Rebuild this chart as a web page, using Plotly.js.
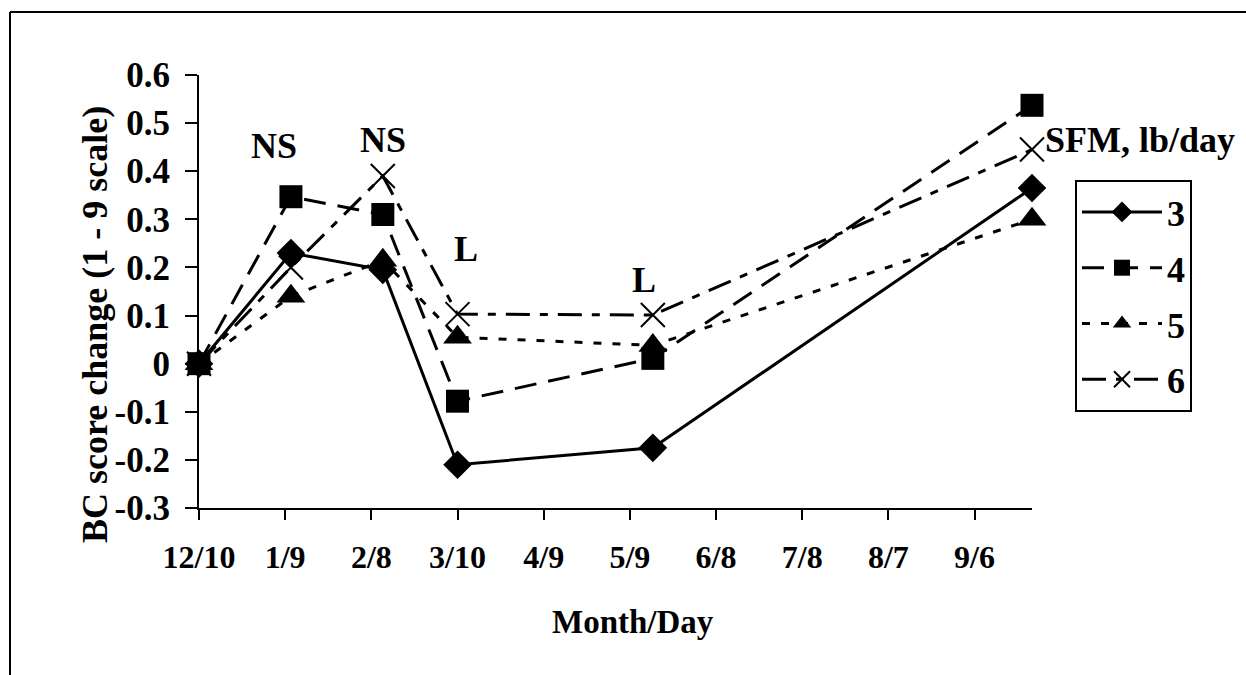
<!DOCTYPE html>
<html>
<head>
<meta charset="utf-8">
<script src="https://cdn.plot.ly/plotly-3.0.1.min.js"></script>
<style>html,body{margin:0;padding:0;background:#fff;}#chart{width:1246px;height:675px;}</style>
</head>
<body>
<div id="chart"></div>
<script>
// ---- data ----
const dates = ['2002-12-10','2003-01-11','2003-02-12','2003-03-10','2003-05-17','2003-09-26'];
const sfm3 = [0, 0.23, 0.195, -0.21, -0.175, 0.365];
const sfm4 = [0, 0.347, 0.31, -0.078, 0.011, 0.537];
const sfm5 = [0, 0.14, 0.215, 0.055, 0.038, 0.30];
const sfm6 = [0, 0.20, 0.39, 0.103, 0.101, 0.445];
const seriesNames = ['3', '4', '5', '6'];

const xTickVals = ['2002-12-10','2003-01-09','2003-02-08','2003-03-10','2003-04-09','2003-05-09','2003-06-08','2003-07-08','2003-08-07','2003-09-06'];
const xTickText = ['12/10','1/9','2/8','3/10','4/9','5/9','6/8','7/8','8/7','9/6'];
const yTickVals = [-0.3,-0.2,-0.1,0,0.1,0.2,0.3,0.4,0.5,0.6];
const yTickText = ['-0.3','-0.2','-0.1','0','0.1','0.2','0.3','0.4','0.5','0.6'];

const sigLabels = ['NS','NS','L','L','C'];
const sigX = ['2003-01-05','2003-02-12','2003-03-13','2003-05-14','2003-09-16'];
const sigY = [0.453, 0.465, 0.238, 0.174, 0.644];

// ---- styling ----
const FONT = 'Liberation Serif, Times New Roman, serif';
const styles = [
  {symbol:'diamond', size:22, dash:'solid'},
  {symbol:'square', size:23, dash:'22px,12px'},
  {symbol:'triangle-up', size:25, dash:'8px,11px'},
  {symbol:'x-thin-open', size:24, dash:'24px,10px,8px,10px'}
];
const values = [sfm3, sfm4, sfm5, sfm6];

const traces = values.map((v, i) => ({
  type: 'scatter',
  mode: 'lines+markers',
  x: dates,
  y: v,
  name: seriesNames[i],
  legendgroup: 'g' + i,
  cliponaxis: false,
  line: {color: '#000', width: 3, dash: styles[i].dash},
  marker: {
    symbol: styles[i].symbol,
    size: styles[i].size,
    color: '#000',
    line: {color: '#000', width: styles[i].symbol === 'x-thin-open' ? 2 : 0}
  }
}));

const annotations = sigLabels.map((t, i) => ({
  x: sigX[i], y: sigY[i], xref: 'x', yref: 'y',
  text: t, showarrow: false,
  font: {family: FONT, size: 36, weight: 'bold', color: '#000'},
  xanchor: 'center', yanchor: 'middle'
}));
annotations.push({
  x: (1140 - 199) / 833, y: (508 - 140) / 433, xref: 'paper', yref: 'paper',
  text: 'SFM, lb/day', showarrow: false,
  font: {family: FONT, size: 36, weight: 'bold', color: '#000'},
  xanchor: 'center', yanchor: 'middle'
});
annotations.push({
  x: (633 - 199) / 833, y: (508 - 622) / 433, xref: 'paper', yref: 'paper',
  text: 'Month/Day', showarrow: false,
  font: {family: FONT, size: 33, weight: 'bold', color: '#000'},
  xanchor: 'center', yanchor: 'middle'
});
annotations.push({
  x: (95 - 199) / 833, y: (508 - 325) / 433, xref: 'paper', yref: 'paper',
  text: 'BC score change (1 - 9 scale)', showarrow: false, textangle: -90,
  font: {family: FONT, size: 36, weight: 'bold', color: '#000'},
  xanchor: 'center', yanchor: 'middle'
});

const layout = {
  width: 1246, height: 675,
  margin: {l: 199, r: 214, t: 75, b: 167},
  paper_bgcolor: '#fff', plot_bgcolor: '#fff',
  font: {family: FONT, color: '#000'},
  showlegend: true,
  legend: {
    x: (1075 - 199) / 833, y: (508 - 180) / 433, xanchor: 'left', yanchor: 'top',
    bordercolor: '#000', borderwidth: 2, bgcolor: '#fff',
    font: {family: FONT, size: 36, weight: 'bold', color: '#000'},
    tracegroupgap: 6, itemwidth: 80
  },
  xaxis: {
    type: 'date',
    range: ['2002-12-10', '2003-09-26'],
    tickmode: 'array', tickvals: xTickVals, ticktext: xTickText,
    ticks: 'outside', ticklen: 10, tickwidth: 2, tickcolor: '#000',
    showline: true, linewidth: 2, linecolor: '#000',
    showgrid: false, zeroline: false,
    tickfont: {family: FONT, size: 32, weight: 'bold', color: '#000'},
    ticklabelstandoff: 10
  },
  yaxis: {
    range: [-0.3, 0.6],
    tickmode: 'array', tickvals: yTickVals, ticktext: yTickText,
    ticks: 'outside', ticklen: 12, tickwidth: 2, tickcolor: '#000',
    showline: true, linewidth: 2, linecolor: '#000',
    showgrid: false, zeroline: false,
    tickfont: {family: FONT, size: 35, weight: 'bold', color: '#000'},
    ticklabelstandoff: 8
  },
  annotations: annotations,
  shapes: [
    {type: 'line', xref: 'paper', yref: 'paper',
     x0: (10 - 199) / 833, x1: (1250 - 199) / 833, y0: (508 - 12) / 433, y1: (508 - 12) / 433,
     line: {color: '#000', width: 2}},
    {type: 'line', xref: 'paper', yref: 'paper',
     x0: (10 - 199) / 833, x1: (10 - 199) / 833, y0: (508 - 12) / 433, y1: (508 - 680) / 433,
     line: {color: '#000', width: 2}}
  ]
};

Plotly.newPlot('chart', traces, layout, {displayModeBar: false, staticPlot: true});
</script>
</body>
</html>
